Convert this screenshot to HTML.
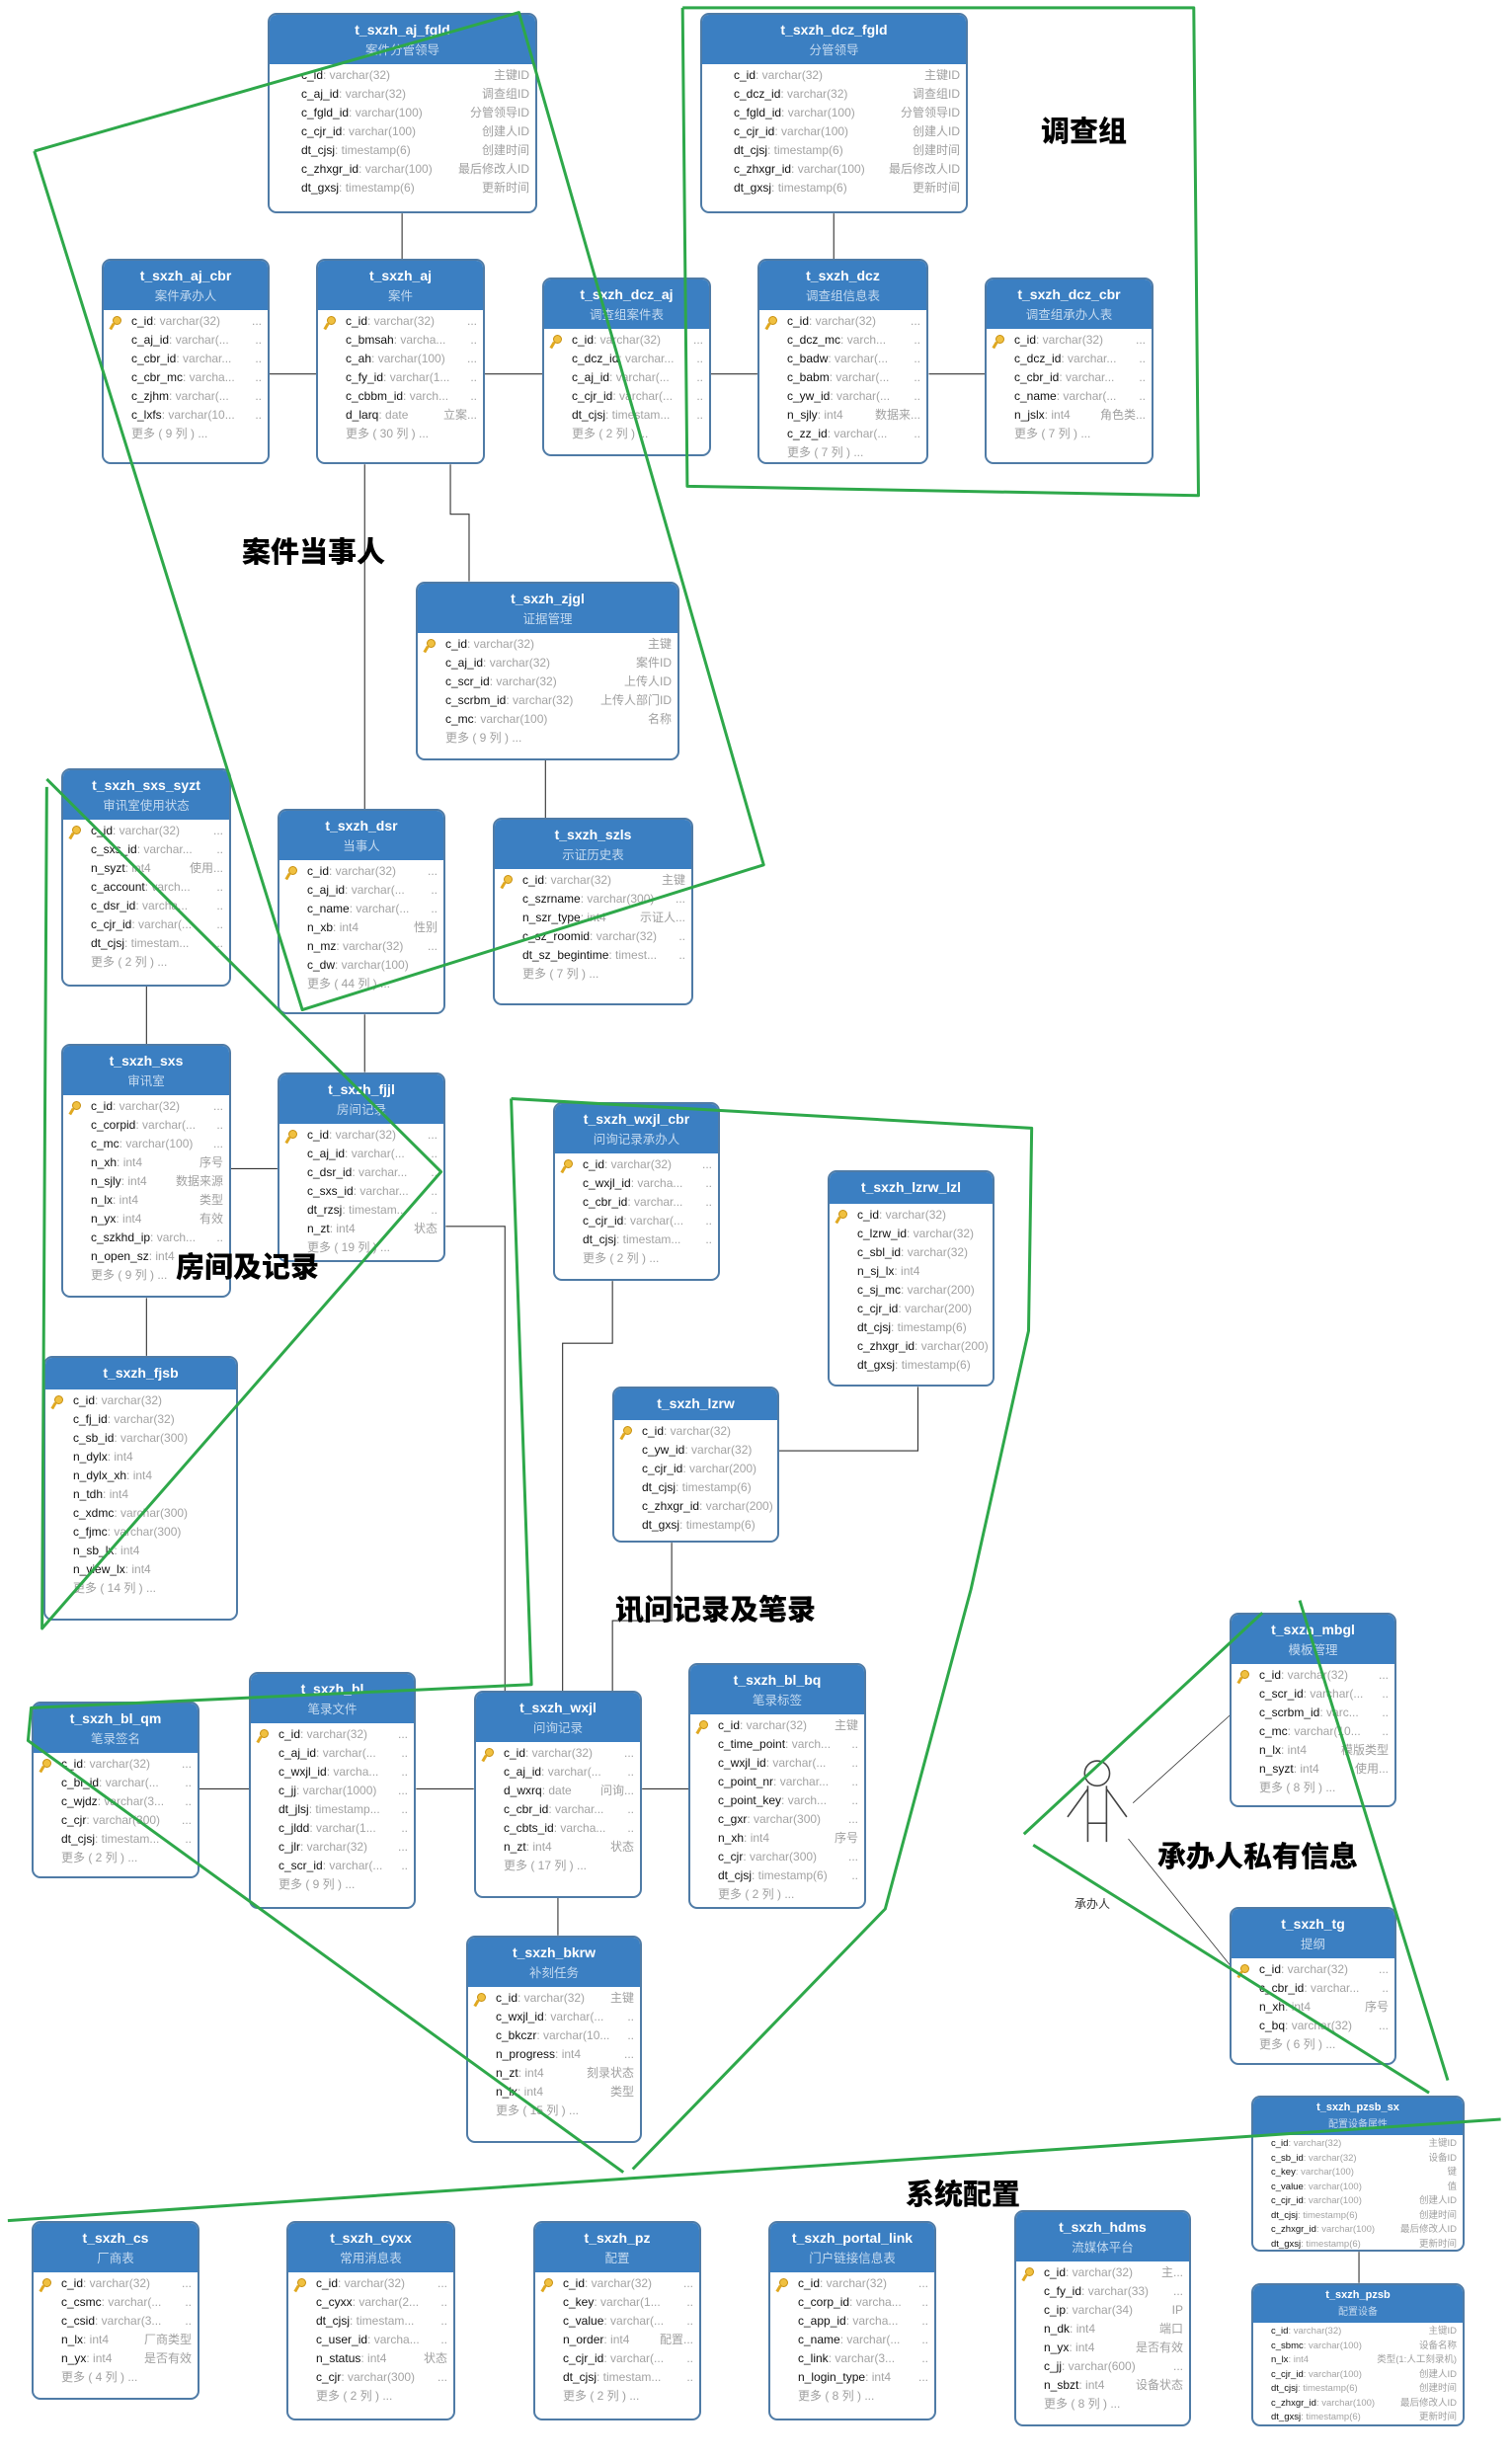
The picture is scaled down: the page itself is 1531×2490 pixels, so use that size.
<!DOCTYPE html>
<html><head><meta charset="utf-8">
<style>
*{box-sizing:border-box;margin:0;padding:0}
body{width:1531px;height:2490px;background:#fff;position:relative;overflow:hidden;font-family:"Liberation Sans","Noto Sans CJK SC",sans-serif}
.t{position:absolute;border:2px solid #4f7ba6;border-radius:9px;background:#fff;overflow:hidden;z-index:2}
.h{background:#3b7fc2;height:50px;text-align:center;color:#fff;padding-top:6px}
.h b{display:block;font-size:14px;line-height:19px}
.h s{display:block;text-decoration:none;font-size:12.5px;color:#c4daf0;line-height:19px;font-family:"Noto Sans CJK SC",sans-serif}
.h.n{height:32px}
.bd{padding-top:2px}
p{position:relative;height:19px;line-height:19px;font-size:12px;padding-left:28px;white-space:nowrap;color:#111}
p u{text-decoration:none;color:#a3a3a3}
p i{position:absolute;right:6px;top:0;font-style:normal;color:#a0a0a0;font-family:"Liberation Sans","Noto Sans CJK SC",sans-serif}
p.m{color:#a0a0a0}
p.k:before{content:"";position:absolute;left:9px;top:4px;width:7px;height:7px;border-radius:50%;background:#f0c040;border:1px solid #c89010}
p.k:after{content:"";position:absolute;left:7px;top:11px;width:3px;height:7px;background:#e0a820;transform:rotate(30deg)}
.w p{padding-left:32px}
.sm .h{height:38px;padding-top:3px}
.sm .h b{font-size:11px;line-height:15px}
.sm .h s{font-size:10px;line-height:15px}
.sm p{height:14.5px;line-height:14.5px;font-size:9.5px;padding-left:18px}
.lb{position:absolute;font-family:"Noto Sans CJK SC",sans-serif;font-weight:900;font-size:29px;color:#000;z-index:3;white-space:nowrap;line-height:40px}
svg{position:absolute;left:0;top:0}
</style></head><body>

<svg width="1531" height="2490" viewBox="0 0 970.2 1578" preserveAspectRatio="none" style="z-index:1" fill="none" stroke="#333" stroke-width="0.7">
<path d="M258 137V166M173 240H203M311 240H348M456 240H486M596 240H632M535 137V166"/>
<path d="M234 298V519M289 298V330H301V373M350 488V525M94 633V670M148 750H178M234 651V688M94 833V870"/>
<path d="M286 787H324V1085M393 822V862H361V1085M431 990V1040H393V1085M500 931H589V890"/>
<path d="M128 1148H160M267 1148H304M412 1148H442M358 1218V1242M872 1445V1465"/>
<path d="M727 1157L790 1100M724 1180L790 1262" stroke-width="0.5"/>
<g stroke="#444" stroke-width="1">
<circle cx="704" cy="1138" r="8"/>
<path d="M698 1146V1182M710 1146V1182M698 1170H710M698 1148L685 1166M710 1148L723 1166"/>
</g>
</svg>

<div class="t w" style="left:271px;top:13px;width:273px;height:203px"><div class="h"><b>t_sxzh_aj_fgld</b><s>案件分管领导</s></div><div class="bd">
<p>c_id<u>: varchar(32)</u><i>主键ID</i></p><p>c_aj_id<u>: varchar(32)</u><i>调查组ID</i></p><p>c_fgld_id<u>: varchar(100)</u><i>分管领导ID</i></p><p>c_cjr_id<u>: varchar(100)</u><i>创建人ID</i></p><p>dt_cjsj<u>: timestamp(6)</u><i>创建时间</i></p><p>c_zhxgr_id<u>: varchar(100)</u><i>最后修改人ID</i></p><p>dt_gxsj<u>: timestamp(6)</u><i>更新时间</i></p></div></div>

<div class="t w" style="left:709px;top:13px;width:271px;height:203px"><div class="h"><b>t_sxzh_dcz_fgld</b><s>分管领导</s></div><div class="bd">
<p>c_id<u>: varchar(32)</u><i>主键ID</i></p><p>c_dcz_id<u>: varchar(32)</u><i>调查组ID</i></p><p>c_fgld_id<u>: varchar(100)</u><i>分管领导ID</i></p><p>c_cjr_id<u>: varchar(100)</u><i>创建人ID</i></p><p>dt_cjsj<u>: timestamp(6)</u><i>创建时间</i></p><p>c_zhxgr_id<u>: varchar(100)</u><i>最后修改人ID</i></p><p>dt_gxsj<u>: timestamp(6)</u><i>更新时间</i></p></div></div>

<div class="t" style="left:103px;top:262px;width:170px;height:208px"><div class="h"><b>t_sxzh_aj_cbr</b><s>案件承办人</s></div><div class="bd">
<p class="k">c_id<u>: varchar(32)</u><i>...</i></p><p>c_aj_id<u>: varchar(...</u><i>..</i></p><p>c_cbr_id<u>: varchar...</u><i>..</i></p><p>c_cbr_mc<u>: varcha...</u><i>..</i></p><p>c_zjhm<u>: varchar(...</u><i>..</i></p><p>c_lxfs<u>: varchar(10...</u><i>..</i></p><p class="m">更多 ( 9 列 ) ...</p></div></div>

<div class="t" style="left:320px;top:262px;width:171px;height:208px"><div class="h"><b>t_sxzh_aj</b><s>案件</s></div><div class="bd">
<p class="k">c_id<u>: varchar(32)</u><i>...</i></p><p>c_bmsah<u>: varcha...</u><i>..</i></p><p>c_ah<u>: varchar(100)</u><i>...</i></p><p>c_fy_id<u>: varchar(1...</u><i>..</i></p><p>c_cbbm_id<u>: varch...</u><i>..</i></p><p>d_larq<u>: date</u><i>立案...</i></p><p class="m">更多 ( 30 列 ) ...</p></div></div>

<div class="t" style="left:549px;top:281px;width:171px;height:181px"><div class="h"><b>t_sxzh_dcz_aj</b><s>调查组案件表</s></div><div class="bd">
<p class="k">c_id<u>: varchar(32)</u><i>...</i></p><p>c_dcz_id<u>: varchar...</u><i>..</i></p><p>c_aj_id<u>: varchar(...</u><i>..</i></p><p>c_cjr_id<u>: varchar(...</u><i>..</i></p><p>dt_cjsj<u>: timestam...</u><i>..</i></p><p class="m">更多 ( 2 列 ) ...</p></div></div>

<div class="t" style="left:767px;top:262px;width:173px;height:208px"><div class="h"><b>t_sxzh_dcz</b><s>调查组信息表</s></div><div class="bd">
<p class="k">c_id<u>: varchar(32)</u><i>...</i></p><p>c_dcz_mc<u>: varch...</u><i>..</i></p><p>c_badw<u>: varchar(...</u><i>..</i></p><p>c_babm<u>: varchar(...</u><i>..</i></p><p>c_yw_id<u>: varchar(...</u><i>..</i></p><p>n_sjly<u>: int4</u><i>数据来...</i></p><p>c_zz_id<u>: varchar(...</u><i>..</i></p><p class="m">更多 ( 7 列 ) ...</p></div></div>

<div class="t" style="left:997px;top:281px;width:171px;height:189px"><div class="h"><b>t_sxzh_dcz_cbr</b><s>调查组承办人表</s></div><div class="bd">
<p class="k">c_id<u>: varchar(32)</u><i>...</i></p><p>c_dcz_id<u>: varchar...</u><i>..</i></p><p>c_cbr_id<u>: varchar...</u><i>..</i></p><p>c_name<u>: varchar(...</u><i>..</i></p><p>n_jslx<u>: int4</u><i>角色类...</i></p><p class="m">更多 ( 7 列 ) ...</p></div></div>

<div class="t" style="left:421px;top:589px;width:267px;height:181px"><div class="h"><b>t_sxzh_zjgl</b><s>证据管理</s></div><div class="bd">
<p class="k">c_id<u>: varchar(32)</u><i>主键</i></p><p>c_aj_id<u>: varchar(32)</u><i>案件ID</i></p><p>c_scr_id<u>: varchar(32)</u><i>上传人ID</i></p><p>c_scrbm_id<u>: varchar(32)</u><i>上传人部门ID</i></p><p>c_mc<u>: varchar(100)</u><i>名称</i></p><p class="m">更多 ( 9 列 ) ...</p></div></div>

<div class="t" style="left:62px;top:778px;width:172px;height:221px"><div class="h"><b>t_sxzh_sxs_syzt</b><s>审讯室使用状态</s></div><div class="bd">
<p class="k">c_id<u>: varchar(32)</u><i>...</i></p><p>c_sxs_id<u>: varchar...</u><i>..</i></p><p>n_syzt<u>: int4</u><i>使用...</i></p><p>c_account<u>: varch...</u><i>..</i></p><p>c_dsr_id<u>: varcha...</u><i>..</i></p><p>c_cjr_id<u>: varchar(...</u><i>..</i></p><p>dt_cjsj<u>: timestam...</u><i>..</i></p><p class="m">更多 ( 2 列 ) ...</p></div></div>

<div class="t" style="left:281px;top:819px;width:170px;height:208px"><div class="h"><b>t_sxzh_dsr</b><s>当事人</s></div><div class="bd">
<p class="k">c_id<u>: varchar(32)</u><i>...</i></p><p>c_aj_id<u>: varchar(...</u><i>..</i></p><p>c_name<u>: varchar(...</u><i>..</i></p><p>n_xb<u>: int4</u><i>性别</i></p><p>n_mz<u>: varchar(32)</u><i>...</i></p><p>c_dw<u>: varchar(100)</u><i>..</i></p><p class="m">更多 ( 44 列 ) ...</p></div></div>

<div class="t" style="left:499px;top:828px;width:203px;height:190px"><div class="h"><b>t_sxzh_szls</b><s>示证历史表</s></div><div class="bd">
<p class="k">c_id<u>: varchar(32)</u><i>主键</i></p><p>c_szrname<u>: varchar(300)</u><i>...</i></p><p>n_szr_type<u>: int4</u><i>示证人...</i></p><p>c_sz_roomid<u>: varchar(32)</u><i>..</i></p><p>dt_sz_begintime<u>: timest...</u><i>..</i></p><p class="m">更多 ( 7 列 ) ...</p></div></div>

<div class="t" style="left:62px;top:1057px;width:172px;height:257px"><div class="h"><b>t_sxzh_sxs</b><s>审讯室</s></div><div class="bd">
<p class="k">c_id<u>: varchar(32)</u><i>...</i></p><p>c_corpid<u>: varchar(...</u><i>..</i></p><p>c_mc<u>: varchar(100)</u><i>...</i></p><p>n_xh<u>: int4</u><i>序号</i></p><p>n_sjly<u>: int4</u><i>数据来源</i></p><p>n_lx<u>: int4</u><i>类型</i></p><p>n_yx<u>: int4</u><i>有效</i></p><p>c_szkhd_ip<u>: varch...</u><i>..</i></p><p>n_open_sz<u>: int4</u></p><p class="m">更多 ( 9 列 ) ...</p></div></div>

<div class="t" style="left:281px;top:1086px;width:170px;height:192px"><div class="h"><b>t_sxzh_fjjl</b><s>房间记录</s></div><div class="bd">
<p class="k">c_id<u>: varchar(32)</u><i>...</i></p><p>c_aj_id<u>: varchar(...</u><i>..</i></p><p>c_dsr_id<u>: varchar...</u><i>..</i></p><p>c_sxs_id<u>: varchar...</u><i>..</i></p><p>dt_rzsj<u>: timestam...</u><i>..</i></p><p>n_zt<u>: int4</u><i>状态</i></p><p class="m">更多 ( 19 列 ) ...</p></div></div>

<div class="t" style="left:560px;top:1116px;width:169px;height:181px"><div class="h"><b>t_sxzh_wxjl_cbr</b><s>问询记录承办人</s></div><div class="bd">
<p class="k">c_id<u>: varchar(32)</u><i>...</i></p><p>c_wxjl_id<u>: varcha...</u><i>..</i></p><p>c_cbr_id<u>: varchar...</u><i>..</i></p><p>c_cjr_id<u>: varchar(...</u><i>..</i></p><p>dt_cjsj<u>: timestam...</u><i>..</i></p><p class="m">更多 ( 2 列 ) ...</p></div></div>

<div class="t" style="left:838px;top:1185px;width:169px;height:219px"><div class="h n"><b>t_sxzh_lzrw_lzl</b></div><div class="bd">
<p class="k">c_id<u>: varchar(32)</u></p><p>c_lzrw_id<u>: varchar(32)</u></p><p>c_sbl_id<u>: varchar(32)</u></p><p>n_sj_lx<u>: int4</u></p><p>c_sj_mc<u>: varchar(200)</u></p><p>c_cjr_id<u>: varchar(200)</u></p><p>dt_cjsj<u>: timestamp(6)</u></p><p>c_zhxgr_id<u>: varchar(200)</u></p><p>dt_gxsj<u>: timestamp(6)</u></p></div></div>

<div class="t" style="left:44px;top:1373px;width:197px;height:268px"><div class="h n"><b>t_sxzh_fjsb</b></div><div class="bd">
<p class="k">c_id<u>: varchar(32)</u></p><p>c_fj_id<u>: varchar(32)</u></p><p>c_sb_id<u>: varchar(300)</u></p><p>n_dylx<u>: int4</u></p><p>n_dylx_xh<u>: int4</u></p><p>n_tdh<u>: int4</u></p><p>c_xdmc<u>: varchar(300)</u></p><p>c_fjmc<u>: varchar(300)</u></p><p>n_sb_lx<u>: int4</u></p><p>n_view_lx<u>: int4</u></p><p class="m">更多 ( 14 列 ) ...</p></div></div>

<div class="t" style="left:620px;top:1404px;width:169px;height:158px"><div class="h n"><b>t_sxzh_lzrw</b></div><div class="bd">
<p class="k">c_id<u>: varchar(32)</u></p><p>c_yw_id<u>: varchar(32)</u></p><p>c_cjr_id<u>: varchar(200)</u></p><p>dt_cjsj<u>: timestamp(6)</u></p><p>c_zhxgr_id<u>: varchar(200)</u></p><p>dt_gxsj<u>: timestamp(6)</u></p></div></div>

<div class="t" style="left:1245px;top:1633px;width:169px;height:197px"><div class="h"><b>t_sxzh_mbgl</b><s>模板管理</s></div><div class="bd">
<p class="k">c_id<u>: varchar(32)</u><i>...</i></p><p>c_scr_id<u>: varchar(...</u><i>..</i></p><p>c_scrbm_id<u>: varc...</u><i>..</i></p><p>c_mc<u>: varchar(10...</u><i>..</i></p><p>n_lx<u>: int4</u><i>模版类型</i></p><p>n_syzt<u>: int4</u><i>使用...</i></p><p class="m">更多 ( 8 列 ) ...</p></div></div>

<div class="t" style="left:32px;top:1723px;width:170px;height:179px"><div class="h"><b>t_sxzh_bl_qm</b><s>笔录签名</s></div><div class="bd">
<p class="k">c_id<u>: varchar(32)</u><i>...</i></p><p>c_bl_id<u>: varchar(...</u><i>..</i></p><p>c_wjdz<u>: varchar(3...</u><i>..</i></p><p>c_cjr<u>: varchar(300)</u><i>...</i></p><p>dt_cjsj<u>: timestam...</u><i>..</i></p><p class="m">更多 ( 2 列 ) ...</p></div></div>

<div class="t" style="left:252px;top:1693px;width:169px;height:240px"><div class="h"><b>t_sxzh_bl</b><s>笔录文件</s></div><div class="bd">
<p class="k">c_id<u>: varchar(32)</u><i>...</i></p><p>c_aj_id<u>: varchar(...</u><i>..</i></p><p>c_wxjl_id<u>: varcha...</u><i>..</i></p><p>c_jj<u>: varchar(1000)</u><i>...</i></p><p>dt_jlsj<u>: timestamp...</u><i>..</i></p><p>c_jldd<u>: varchar(1...</u><i>..</i></p><p>c_jlr<u>: varchar(32)</u><i>...</i></p><p>c_scr_id<u>: varchar(...</u><i>..</i></p><p class="m">更多 ( 9 列 ) ...</p></div></div>

<div class="t" style="left:480px;top:1712px;width:170px;height:210px"><div class="h"><b>t_sxzh_wxjl</b><s>问询记录</s></div><div class="bd">
<p class="k">c_id<u>: varchar(32)</u><i>...</i></p><p>c_aj_id<u>: varchar(...</u><i>..</i></p><p>d_wxrq<u>: date</u><i>问询...</i></p><p>c_cbr_id<u>: varchar...</u><i>..</i></p><p>c_cbts_id<u>: varcha...</u><i>..</i></p><p>n_zt<u>: int4</u><i>状态</i></p><p class="m">更多 ( 17 列 ) ...</p></div></div>

<div class="t" style="left:697px;top:1684px;width:180px;height:249px"><div class="h"><b>t_sxzh_bl_bq</b><s>笔录标签</s></div><div class="bd">
<p class="k">c_id<u>: varchar(32)</u><i>主键</i></p><p>c_time_point<u>: varch...</u><i>..</i></p><p>c_wxjl_id<u>: varchar(...</u><i>..</i></p><p>c_point_nr<u>: varchar...</u><i>..</i></p><p>c_point_key<u>: varch...</u><i>..</i></p><p>c_gxr<u>: varchar(300)</u><i>...</i></p><p>n_xh<u>: int4</u><i>序号</i></p><p>c_cjr<u>: varchar(300)</u><i>...</i></p><p>dt_cjsj<u>: timestamp(6)</u><i>..</i></p><p class="m">更多 ( 2 列 ) ...</p></div></div>

<div class="t" style="left:1245px;top:1931px;width:169px;height:160px"><div class="h"><b>t_sxzh_tg</b><s>提纲</s></div><div class="bd">
<p class="k">c_id<u>: varchar(32)</u><i>...</i></p><p>c_cbr_id<u>: varchar...</u><i>..</i></p><p>n_xh<u>: int4</u><i>序号</i></p><p>c_bq<u>: varchar(32)</u><i>...</i></p><p class="m">更多 ( 6 列 ) ...</p></div></div>

<div class="t" style="left:472px;top:1960px;width:178px;height:210px"><div class="h"><b>t_sxzh_bkrw</b><s>补刻任务</s></div><div class="bd">
<p class="k">c_id<u>: varchar(32)</u><i>主键</i></p><p>c_wxjl_id<u>: varchar(...</u><i>..</i></p><p>c_bkczr<u>: varchar(10...</u><i>..</i></p><p>n_progress<u>: int4</u><i>...</i></p><p>n_zt<u>: int4</u><i>刻录状态</i></p><p>n_lx<u>: int4</u><i>类型</i></p><p class="m">更多 ( 15 列 ) ...</p></div></div>

<div class="t sm" style="left:1267px;top:2122px;width:216px;height:158px"><div class="h"><b>t_sxzh_pzsb_sx</b><s>配置设备属性</s></div><div class="bd">
<p>c_id<u>: varchar(32)</u><i>主键ID</i></p><p>c_sb_id<u>: varchar(32)</u><i>设备ID</i></p><p>c_key<u>: varchar(100)</u><i>键</i></p><p>c_value<u>: varchar(100)</u><i>值</i></p><p>c_cjr_id<u>: varchar(100)</u><i>创建人ID</i></p><p>dt_cjsj<u>: timestamp(6)</u><i>创建时间</i></p><p>c_zhxgr_id<u>: varchar(100)</u><i>最后修改人ID</i></p><p>dt_gxsj<u>: timestamp(6)</u><i>更新时间</i></p></div></div>

<div class="t sm" style="left:1267px;top:2312px;width:216px;height:145px"><div class="h"><b>t_sxzh_pzsb</b><s>配置设备</s></div><div class="bd">
<p>c_id<u>: varchar(32)</u><i>主键ID</i></p><p>c_sbmc<u>: varchar(100)</u><i>设备名称</i></p><p>n_lx<u>: int4</u><i>类型(1:人工刻录机)</i></p><p>c_cjr_id<u>: varchar(100)</u><i>创建人ID</i></p><p>dt_cjsj<u>: timestamp(6)</u><i>创建时间</i></p><p>c_zhxgr_id<u>: varchar(100)</u><i>最后修改人ID</i></p><p>dt_gxsj<u>: timestamp(6)</u><i>更新时间</i></p></div></div>

<div class="t" style="left:32px;top:2249px;width:170px;height:181px"><div class="h"><b>t_sxzh_cs</b><s>厂商表</s></div><div class="bd">
<p class="k">c_id<u>: varchar(32)</u><i>...</i></p><p>c_csmc<u>: varchar(...</u><i>..</i></p><p>c_csid<u>: varchar(3...</u><i>..</i></p><p>n_lx<u>: int4</u><i>厂商类型</i></p><p>n_yx<u>: int4</u><i>是否有效</i></p><p class="m">更多 ( 4 列 ) ...</p></div></div>

<div class="t" style="left:290px;top:2249px;width:171px;height:202px"><div class="h"><b>t_sxzh_cyxx</b><s>常用消息表</s></div><div class="bd">
<p class="k">c_id<u>: varchar(32)</u><i>...</i></p><p>c_cyxx<u>: varchar(2...</u><i>..</i></p><p>dt_cjsj<u>: timestam...</u><i>..</i></p><p>c_user_id<u>: varcha...</u><i>..</i></p><p>n_status<u>: int4</u><i>状态</i></p><p>c_cjr<u>: varchar(300)</u><i>...</i></p><p class="m">更多 ( 2 列 ) ...</p></div></div>

<div class="t" style="left:540px;top:2249px;width:170px;height:202px"><div class="h"><b>t_sxzh_pz</b><s>配置</s></div><div class="bd">
<p class="k">c_id<u>: varchar(32)</u><i>...</i></p><p>c_key<u>: varchar(1...</u><i>..</i></p><p>c_value<u>: varchar(...</u><i>..</i></p><p>n_order<u>: int4</u><i>配置...</i></p><p>c_cjr_id<u>: varchar(...</u><i>..</i></p><p>dt_cjsj<u>: timestam...</u><i>..</i></p><p class="m">更多 ( 2 列 ) ...</p></div></div>

<div class="t" style="left:778px;top:2249px;width:170px;height:202px"><div class="h"><b>t_sxzh_portal_link</b><s>门户链接信息表</s></div><div class="bd">
<p class="k">c_id<u>: varchar(32)</u><i>...</i></p><p>c_corp_id<u>: varcha...</u><i>..</i></p><p>c_app_id<u>: varcha...</u><i>..</i></p><p>c_name<u>: varchar(...</u><i>..</i></p><p>c_link<u>: varchar(3...</u><i>..</i></p><p>n_login_type<u>: int4</u><i>...</i></p><p class="m">更多 ( 8 列 ) ...</p></div></div>

<div class="t" style="left:1027px;top:2238px;width:179px;height:219px"><div class="h"><b>t_sxzh_hdms</b><s>流媒体平台</s></div><div class="bd">
<p class="k">c_id<u>: varchar(32)</u><i>主...</i></p><p>c_fy_id<u>: varchar(33)</u><i>...</i></p><p>c_ip<u>: varchar(34)</u><i>IP</i></p><p>n_dk<u>: int4</u><i>端口</i></p><p>n_yx<u>: int4</u><i>是否有效</i></p><p>c_jj<u>: varchar(600)</u><i>...</i></p><p>n_sbzt<u>: int4</u><i>设备状态</i></p><p class="m">更多 ( 8 列 ) ...</p></div></div>

<div class="lb" style="left:1054px;top:111px">调查组</div>
<div class="lb" style="left:245px;top:537px">案件当事人</div>
<div class="lb" style="left:178px;top:1261px">房间及记录</div>
<div class="lb" style="left:623px;top:1608px">讯问记录及笔录</div>
<div class="lb" style="left:1172px;top:1858px">承办人私有信息</div>
<div class="lb" style="left:917px;top:2200px">系统配置</div>
<div style="position:absolute;left:1088px;top:1919px;font-size:12px;font-family:'Noto Sans CJK SC',sans-serif;color:#333;z-index:3">承办人</div>

<svg width="1531" height="2490" viewBox="0 0 970.2 1578" preserveAspectRatio="none" style="z-index:4" fill="none" stroke="#2ea84a" stroke-width="1.9" stroke-linejoin="round">
<path d="M22 97L333 8L490 555L194 648L22 97"/>
<path d="M438 5H766L769 318L441 312L438 5"/>
<path d="M30 500L283 752L27 1045L30 505"/>
<path d="M328 705L662 724L660 854L623 1020L568 1225L406 1392M328 705L341 1081L20 1096L18 1117L400 1394"/>
<path d="M5 1425L963 1360"/>
<path d="M657 1177L810 1035M663 1184L917 1343M834 1027L929 1335"/>
</svg>
</body></html>
